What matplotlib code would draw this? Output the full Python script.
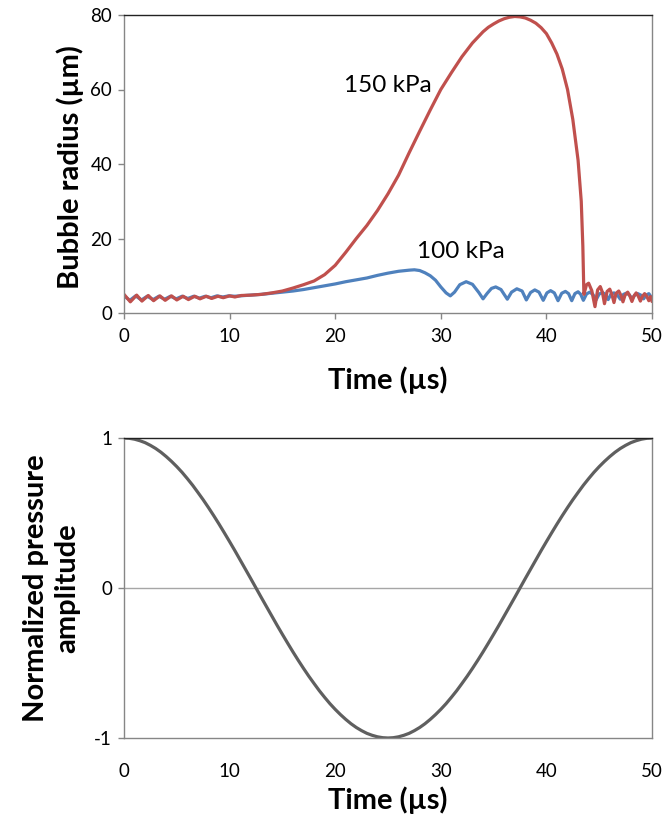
import matplotlib
matplotlib.use("Agg")
import matplotlib.pyplot as plt

plt.rcParams['font.family'] = ['Lato', 'DejaVu Sans']
plt.rcParams['axes.unicode_minus'] = False

# ---- Top panel: bubble radius (µm) vs time (µs) ----
t_150 = [0, 0.6, 1.2, 1.7, 2.3, 2.8, 3.4, 3.9, 4.5, 5.0, 5.6, 6.1, 6.7, 7.2, 7.8, 8.3,
         8.9, 9.4, 10.0, 10.5, 11.1, 12, 13, 14, 15, 16, 17, 18, 19, 20, 21, 22, 23,
         24, 25, 26, 27, 28, 29, 30, 31, 32, 33, 34, 34.5, 35, 35.5, 36, 36.5, 37,
         37.5, 38, 38.5, 39, 39.5, 40, 40.5, 41, 41.5, 42, 42.5, 43, 43.3, 43.45, 43.55,
         43.8, 44.0, 44.3, 44.6, 44.85, 45.1, 45.3, 45.5, 45.75, 46.0, 46.2, 46.4, 46.6,
         46.85, 47.05, 47.25, 47.45, 47.7, 47.9, 48.1, 48.3, 48.5, 48.7, 48.9, 49.1,
         49.3, 49.5, 49.7, 49.85, 50.0]
r_150 = [5.0, 3.0, 4.8, 3.2, 4.7, 3.3, 4.6, 3.4, 4.6, 3.5, 4.5, 3.6, 4.5, 3.8, 4.5, 3.9,
         4.5, 4.1, 4.6, 4.3, 4.7, 4.8, 5.0, 5.4, 5.9, 6.7, 7.6, 8.6, 10.3, 12.8, 16.3,
         20.0, 23.5, 27.5, 32.0, 37.0, 43.0, 48.8, 54.5, 60.0, 64.5, 68.8, 72.5, 75.5,
         76.7, 77.6, 78.4, 79.0, 79.4, 79.6, 79.5, 79.2, 78.6, 77.8, 76.6, 75.0, 72.5,
         69.5, 65.5, 60.0, 52.0, 41.0, 30.0, 18.0, 5.0, 7.6, 8.0, 6.0, 1.7, 6.2, 7.1,
         5.6, 2.5, 5.8, 6.4, 5.0, 2.8, 5.3, 5.9, 4.8, 3.0, 4.8, 5.6, 4.6, 3.1, 4.6, 5.4,
         4.5, 3.2, 4.5, 5.2, 4.5, 3.3, 4.4, 3.2]

t_100 = [0, 0.55, 1.1, 1.65, 2.2, 2.75, 3.3, 3.85, 4.4, 4.95, 5.5, 6.05, 6.6, 7.15,
         7.7, 8.25, 8.8, 9.35, 9.9, 10.5, 11, 12, 13, 14, 15, 16, 17, 18, 19, 20, 21,
         22, 23, 24, 25, 26, 27, 27.5, 28, 28.5, 29, 29.5, 30, 30.5, 30.9, 31.3, 31.8,
         32.4, 33.0, 33.6, 34.0, 34.4, 34.8, 35.2, 35.7, 36.3, 36.7, 37.2, 37.7, 38.1,
         38.5, 38.9, 39.3, 39.7, 40.05, 40.4, 40.75, 41.1, 41.45, 41.8, 42.1, 42.4,
         42.7, 43.0, 43.25, 43.5, 43.8, 44.1, 44.4, 44.7, 45.0, 45.3, 45.6, 45.85,
         46.1, 46.4, 46.7, 47.0, 47.3, 47.55, 47.85, 48.1, 48.4, 48.65, 48.95, 49.2,
         49.45, 49.7, 50.0]
r_100 = [4.6, 3.4, 4.6, 3.5, 4.5, 3.6, 4.5, 3.7, 4.5, 3.8, 4.5, 3.9, 4.5, 4.0, 4.5,
         4.1, 4.6, 4.3, 4.6, 4.5, 4.6, 4.8, 5.0, 5.3, 5.6, 5.9, 6.3, 6.8, 7.3, 7.8, 8.4,
         8.9, 9.4, 10.1, 10.7, 11.2, 11.5, 11.6, 11.4, 10.8, 10.0, 8.8, 7.0, 5.4, 4.6,
         5.6, 7.6, 8.4, 7.7, 5.5, 3.8, 5.3, 6.6, 7.0, 6.3, 3.7, 5.6, 6.5, 5.9, 3.5, 5.5,
         6.2, 5.6, 3.4, 5.4, 6.0, 5.4, 3.3, 5.3, 5.8, 5.2, 3.3, 5.2, 5.7, 5.0, 3.4, 5.1,
         5.6, 5.0, 3.5, 5.1, 5.5, 5.0, 3.6, 5.0, 5.4, 4.9, 3.7, 5.0, 5.3, 4.9, 3.8, 4.9,
         5.2, 4.8, 3.8, 4.8, 5.2, 4.0]

# ---- Bottom panel: normalized pressure amplitude ----
t_p = [i * 0.5 for i in range(101)]
p_norm = [1.000, 0.998, 0.992, 0.982, 0.969, 0.951, 0.930, 0.905, 0.876, 0.844,
          0.809, 0.771, 0.729, 0.685, 0.637, 0.588, 0.536, 0.482, 0.426, 0.368,
          0.309, 0.249, 0.187, 0.125, 0.063, 0.000, -0.063, -0.125, -0.187, -0.249,
          -0.309, -0.368, -0.426, -0.482, -0.536, -0.588, -0.637, -0.685, -0.729,
          -0.771, -0.809, -0.844, -0.876, -0.905, -0.930, -0.951, -0.969, -0.982,
          -0.992, -0.998, -1.000, -0.998, -0.992, -0.982, -0.969, -0.951, -0.930,
          -0.905, -0.876, -0.844, -0.809, -0.771, -0.729, -0.685, -0.637, -0.588,
          -0.536, -0.482, -0.426, -0.368, -0.309, -0.249, -0.187, -0.125, -0.063,
          0.000, 0.063, 0.125, 0.187, 0.249, 0.309, 0.368, 0.426, 0.482, 0.536, 0.588,
          0.637, 0.685, 0.729, 0.771, 0.809, 0.844, 0.876, 0.905, 0.930, 0.951, 0.969,
          0.982, 0.992, 0.998, 1.000]

x_ticks = [0, 10, 20, 30, 40, 50]
y_ticks_top = [0, 20, 40, 60, 80]
y_ticks_bot = [-1, 0, 1]

RED = '#C0504D'
BLUE = '#4F81BD'
GRAY_LINE = '#5F5F5F'
AX_GRAY = '#868686'

TICK_FS = 13.5
LABEL_FS = 21
ANN_FS = 17.5

W, H = 665, 825
fig = plt.figure(figsize=(W / 100, H / 100), dpi=100)

def frac(l, t, r, b):
    return [l / W, 1 - b / H, (r - l) / W, (b - t) / H]

ax1 = fig.add_axes(frac(124, 15, 652, 313))
ax1.plot(t_100, r_100, color=BLUE, lw=2.3, solid_joinstyle='round')
ax1.plot(t_150, r_150, color=RED, lw=2.3, solid_joinstyle='round')
ax1.set_xlim(0, 50)
ax1.set_ylim(0, 80)
ax1.set_xticks(x_ticks)
ax1.set_yticks(y_ticks_top)
ax1.tick_params(axis='both', labelsize=TICK_FS, direction='out', length=4.5,
                color=AX_GRAY, width=1)
ax1.tick_params(axis='x', pad=6)
ax1.tick_params(axis='y', pad=4)
for s in ['left', 'bottom', 'right']:
    ax1.spines[s].set_color(AX_GRAY)
ax1.spines['top'].set_color('#222222')
for s in ax1.spines.values():
    s.set_linewidth(1)
ax1.set_ylabel('Bubble radius (µm)', fontsize=LABEL_FS, fontweight='bold')
ax1.yaxis.set_label_coords(-0.076, 0.49)
ax1.set_xlabel('Time (µs)', fontsize=LABEL_FS, fontweight='bold')
ax1.xaxis.set_label_coords(0.5, -0.18)
ax1.text(25.0, 61.2, '150 kPa', fontsize=ANN_FS, ha='center', va='center')
ax1.text(31.9, 16.6, '100 kPa', fontsize=ANN_FS, ha='center', va='center')

ax2 = fig.add_axes(frac(124, 438, 652, 738))
ax2.axhline(0, color='#A6A6A6', lw=1)
ax2.plot(t_p, p_norm, color=GRAY_LINE, lw=2.3, solid_joinstyle='round')
ax2.set_xlim(0, 50)
ax2.set_ylim(-1, 1)
ax2.set_xticks(x_ticks)
ax2.set_yticks(y_ticks_bot)
ax2.tick_params(axis='both', labelsize=TICK_FS, color=AX_GRAY, width=1)
ax2.tick_params(axis='x', length=0, pad=18)
ax2.tick_params(axis='y', direction='out', length=4.5, pad=4)
for s in ['left', 'bottom', 'right']:
    ax2.spines[s].set_color(AX_GRAY)
ax2.spines['top'].set_color('#222222')
for s in ax2.spines.values():
    s.set_linewidth(1)
ax2.set_ylabel('Normalized pressure\namplitude', fontsize=LABEL_FS, fontweight='bold',
               linespacing=1.25)
ax2.yaxis.set_label_coords(-0.082, 0.5)
ax2.set_xlabel('Time (µs)', fontsize=LABEL_FS, fontweight='bold')
ax2.xaxis.set_label_coords(0.5, -0.16)

fig.savefig('out.png', dpi=100)
